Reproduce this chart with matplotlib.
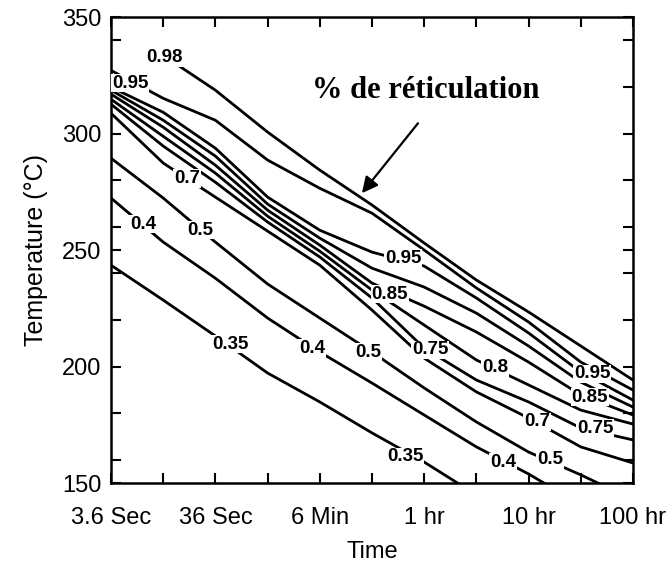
import numpy as np
import matplotlib
matplotlib.use('Agg')
import matplotlib.pyplot as plt
from matplotlib.ticker import FixedLocator, NullFormatter

# time grid (s): 3.6 s ... 100 hr, half-decade steps
t_grid = [3.6, 11.4, 36, 114, 360, 1140, 3600, 11400, 36000, 114000, 360000]

# isoconversion curves, temperature (C) read on t_grid
t_098 = [15.8, 36, 114, 360, 1140, 3600, 11400, 36000, 114000, 360000]
T_098 = [329.3, 318.6, 300.6, 284.3, 269.3, 253.0, 237.1, 223.4, 208.8, 194.2]
T_095 = [327.1, 315.1, 305.7, 288.6, 276.5, 265.8, 250.0, 233.7, 219.1, 201.9, 189.9]
T_093 = [319.9, 309.1, 293.7, 272.7, 258.5, 249.1, 243.1, 229.4, 214.4, 197.6, 185.6]
T_090 = [318.6, 305.7, 290.3, 269.7, 255.1, 242.2, 234.1, 222.9, 208.8, 193.3, 182.6]
T_085 = [316.9, 302.7, 286.4, 267.1, 252.1, 235.8, 225.9, 214.8, 201.9, 187.8, 179.2]
T_080 = [314.7, 298.8, 283.0, 264.5, 249.5, 232.8, 217.8, 202.8, 192.1, 181.3, 175.3]
T_075 = [312.6, 294.6, 279.1, 262.0, 247.0, 229.4, 207.9, 194.2, 184.8, 173.6, 168.5]
T_070 = [308.7, 287.3, 272.7, 258.1, 243.5, 224.2, 203.6, 189.1, 177.9, 165.5, 158.6]
T_050 = [289.4, 272.3, 253.4, 235.4, 220.8, 206.2, 190.8, 176.2, 163.3, 153.5, 142.8]
T_040 = [272.3, 253.4, 237.9, 220.8, 206.2, 192.9, 179.2, 165.5, 153.9, 140.6]
T_035 = [243.5, 228.5, 213.1, 197.2, 184.8, 171.5, 159.0, 144.9]

# contour labels: text, time (s), temperature (C)
lab_txt = ["0.98", "0.95", "0.7", "0.5", "0.4", "0.35", "0.4", "0.5",
           "0.95", "0.85", "0.75", "0.8", "0.95", "0.85", "0.75", "0.7",
           "0.35", "0.4", "0.5"]
lab_t = [11.8, 5.5, 19.2, 25.6, 7.3, 49.7, 303, 1043,
         2256, 1692, 4093, 17160, 145700, 139400, 155700, 43300,
         2357, 20470, 57700]
lab_T = [332.7, 321.6, 280.8, 258.5, 261.1, 209.6, 207.9, 206.2,
         246.5, 231.1, 207.1, 199.4, 196.8, 186.9, 173.6, 176.2,
         161.2, 159.0, 159.9]

xtick_vals = [3.6, 36, 360, 3600, 36000, 360000]
xtick_txt = ["3.6 Sec", "36 Sec", "6 Min", "1 hr", "10 hr", "100 hr"]
xminor_vals = [11.4, 114, 1140, 11400, 114000]
ytick_vals = [150, 200, 250, 300, 350]
yminor_vals = [160, 180, 220, 240, 260, 280, 320, 340]

plt.rcParams['font.family'] = ['Liberation Sans', 'DejaVu Sans']

fig = plt.figure(figsize=(6.71, 5.67), dpi=100)
ax = fig.add_axes([0.1654, 0.1481, 0.7779, 0.8219])

curves = [(t_098, T_098)]
for T in [T_095, T_093, T_090, T_085, T_080, T_075, T_070, T_050, T_040, T_035]:
    curves.append((t_grid[:len(T)], T))
for t, T in curves:
    ax.plot(t, T, color='black', lw=2.0, solid_capstyle='round', zorder=2)

for s, t, T in zip(lab_txt, lab_t, lab_T):
    ax.text(t, T, s, ha='center', va='center', fontsize=13.5, fontweight='bold',
            zorder=4, bbox=dict(facecolor='white', edgecolor='none', pad=0.5))

ax.set_xscale('log')
ax.set_xlim(3.6, 360000)
ax.set_ylim(150, 350)
ax.xaxis.set_major_locator(FixedLocator(xtick_vals))
ax.xaxis.set_minor_locator(FixedLocator(xminor_vals))
ax.xaxis.set_minor_formatter(NullFormatter())
ax.set_xticklabels(xtick_txt)
ax.yaxis.set_major_locator(FixedLocator(ytick_vals))
ax.yaxis.set_minor_locator(FixedLocator(yminor_vals))

ax.tick_params(which='both', direction='in', top=True, right=True,
               length=7.5, width=1.5)
ax.tick_params(axis='x', which='major', labelsize=17, pad=17)
ax.tick_params(axis='y', which='major', labelsize=17, pad=7)
for sp in ax.spines.values():
    sp.set_linewidth(1.8)

ax.set_xlabel("Time", fontsize=17, labelpad=9)
ax.set_ylabel("Temperature (°C)", fontsize=18, labelpad=10)

ax.text(3745, 318.6, "% de réticulation", ha='center', va='center',
        fontsize=22, fontweight='bold', family='Liberation Serif', zorder=5)
ax.annotate('', xy=(913, 274.4), xytext=(3142, 304.4),
            arrowprops=dict(arrowstyle='-|>', lw=1.6, color='black',
                            mutation_scale=24, shrinkA=0, shrinkB=0),
            zorder=5)

fig.savefig('out.png', dpi=100)
